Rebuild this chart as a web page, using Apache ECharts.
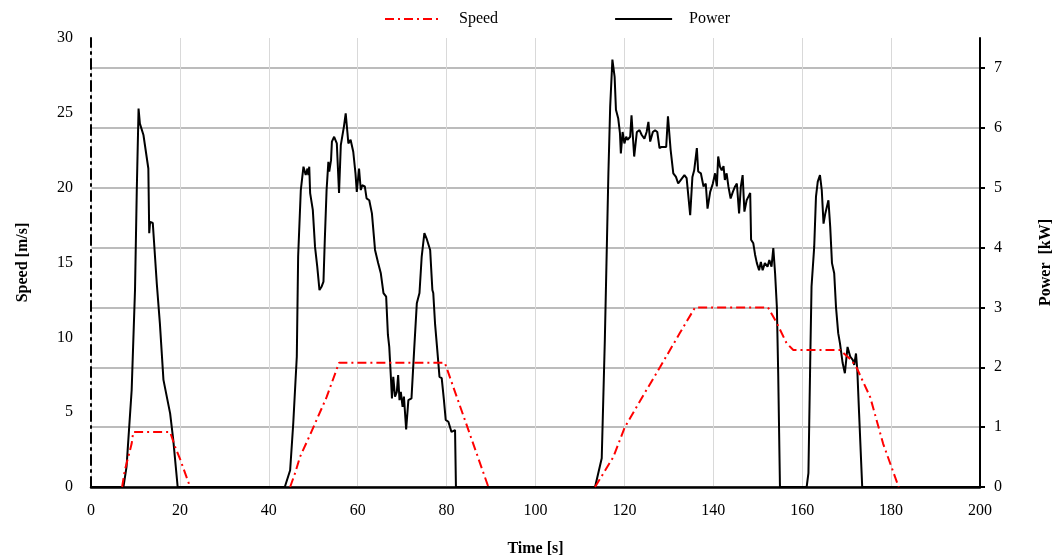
<!DOCTYPE html>
<html>
<head>
<meta charset="utf-8">
<script src="https://cdn.jsdelivr.net/npm/echarts@6/dist/echarts.min.js"></script>
<style>
  html, body { margin: 0; padding: 0; background: #fff; }
  #chart { width: 1060px; height: 558px; }
</style>
</head>
<body>
<div id="chart"></div>
<script>
// speed profile [s] -> [m/s], null = gap between runs (sits on the axis in the original)
var speedTime = [7, 7.6, 9.15, 9.5, 17.8, 18.9, 20, 22.3, 30,
    44.8, 46, 47, 49.3, 53, 55.8, 79.6, 89.4, 100,
    113.4, 117.5, 120.1, 125, 128, 132.5, 135.9, 152.3, 154.3, 156.5, 158, 168.5, 171, 172.2, 175.3, 178.2, 181.7];
var speedValue = [0, 1.1, 2.9, 3.67, 3.67, 2.7, 1.9, 0, null,
    0, 1, 2, 3.5, 6, 8.3, 8.3, 0, null,
    0, 2, 4, 6.5, 8, 10.3, 12, 12, 10.95, 9.6, 9.15, 9.15, 8.5, 8.0, 6.0, 2.9, 0];

// power [s] -> [kW]
var powerTime = [0, 7.3, 8.0, 9.15, 9.9, 10.3, 10.7, 11.0, 11.8, 12.9, 13.1, 13.3, 13.9, 14.8, 15.5, 16.3, 17.8, 18.5, 19.5,
    43.6, 44.8, 45.5, 46.3, 46.6, 47.2, 47.8, 48.3, 48.7, 48.9, 49.1, 49.3, 49.9, 50.4, 50.9, 51.4, 51.9, 52.3, 52.6, 53.0,
    53.4, 53.6, 54.0, 54.2, 54.7, 55.3, 55.8, 56.2, 56.6, 56.9, 57.3, 57.7, 57.9, 58.4, 59.0, 59.5, 59.8, 60.3, 60.7, 61.0,
    61.6, 62.0, 62.6, 63.2, 63.9, 64.6, 65.2, 65.8, 66.4, 66.8, 67.1, 67.5, 67.7, 68.0, 68.4, 68.8, 69.1, 69.4, 69.7, 70.1,
    70.4, 70.9, 71.4, 72.1, 72.7, 73.3, 73.9, 74.4, 75.0, 75.5, 76.3, 76.8, 77.0, 77.4, 77.9, 78.4, 78.9, 79.4, 79.8, 80.4,
    81.1, 81.9, 82.1,
    113.4, 114.9, 115.6, 116.4, 116.8, 117.3, 117.8, 118.1, 118.6, 119.0, 119.2, 119.6, 120.0, 120.4, 120.7, 121.3, 121.6,
    122.2, 122.8, 123.4, 123.9, 124.5, 125.0, 125.4, 125.8, 126.4, 126.9, 127.4, 127.9, 128.4, 129.4, 129.8, 130.4, 131.0,
    131.6, 132.1, 132.7, 133.5, 134.0, 134.8, 135.3, 135.7, 136.3, 136.6, 137.2, 137.8, 138.3, 138.7, 139.3, 139.9, 140.4,
    140.8, 141.1, 141.5, 141.9, 142.3, 142.6, 143.0, 143.4, 143.9, 144.4, 144.9, 145.3, 145.8, 146.2, 146.6, 147.0, 147.5,
    147.9, 148.3, 148.5, 149.0, 149.4, 149.8, 150.3, 150.7, 151.1, 151.6, 152.2, 152.6, 153.1, 153.5, 153.9, 154.3, 154.6, 155.0,
    161.0, 161.4, 161.8, 162.1, 162.7, 163.1, 163.5, 164.0, 164.4, 164.8, 165.2, 165.9, 166.3, 166.7, 167.2, 167.6, 168.1,
    168.5, 169.1, 169.6, 170.2, 170.8, 171.4, 171.7, 172.1, 172.4, 172.8, 173.5, 200];
var powerValue = [0, 0, 0.34, 1.62, 3.29, 4.96, 6.32, 6.07, 5.88, 5.32, 4.24, 4.43, 4.41, 3.40, 2.73, 1.79, 1.23, 0.79, 0,
    0, 0.28, 1.06, 2.18, 3.85, 4.96, 5.35, 5.21, 5.32, 5.21, 5.35, 4.91, 4.63, 4.01, 3.68, 3.29, 3.35, 3.43, 4.13, 4.96,
    5.43, 5.27, 5.46, 5.77, 5.85, 5.74, 4.91, 5.71, 5.74, 6.02, 6.24, 5.91, 5.74, 5.80, 5.60, 5.24, 4.93, 5.32, 4.96, 5.04,
    5.02, 4.82, 4.79, 4.57, 3.96, 3.74, 3.57, 3.24, 3.18, 2.54, 2.34, 1.79, 1.48, 1.84, 1.51, 1.59, 1.87, 1.45, 1.59, 1.34,
    1.51, 0.96, 1.45, 1.48, 2.29, 3.07, 3.24, 3.85, 4.24, 4.15, 3.96, 3.29, 3.24, 2.73, 2.29, 1.84, 1.82, 1.45, 1.12, 1.09,
    0.92, 0.95, 0,
    0, 0.48, 2.46, 5.24, 6.35, 7.14, 6.85, 6.30, 6.16, 5.91, 5.57, 5.93, 5.74, 5.85, 5.80, 5.85, 6.21,
    5.52, 5.93, 5.96, 5.88, 5.82, 5.93, 6.10, 5.77, 5.93, 5.96, 5.93, 5.66, 5.68, 5.68, 6.19, 5.63, 5.24,
    5.18, 5.07, 5.13, 5.21, 5.16, 4.54, 5.18, 5.29, 5.66, 5.27, 5.24, 5.02, 5.07, 4.65, 4.93, 5.07, 5.24,
    5.02, 5.52, 5.35, 5.29, 5.36, 5.13, 5.24, 5.02, 4.82, 4.93, 5.02, 5.07, 4.57, 5.02, 5.21, 4.60, 4.79,
    4.85, 4.91, 4.13, 4.07, 3.88, 3.74, 3.62, 3.76, 3.62, 3.74, 3.68, 3.79, 3.68, 3.99, 3.57, 3.01, 1.90, 0,
    0, 0.23, 2.07, 3.35, 4.01, 4.85, 5.10, 5.21, 4.96, 4.40, 4.57, 4.79, 4.35, 3.74, 3.57, 3.01, 2.57,
    2.40, 2.07, 1.90, 2.34, 2.18, 2.12, 2.04, 2.23, 1.95, 1.23, 0, 0];

var powerTicks = [0, 1, 2, 3, 4, 5, 6, 7];

function pairs(xs, ys) {
    return xs.map(function(x, i) { return [x, ys[i] === null ? '-' : ys[i]]; });
}

var font = 'Liberation Serif';
var myChart = echarts.init(document.getElementById('chart'));

var option = {
    animation: false,
    textStyle: { fontFamily: font },
    legend: {
        top: 6,
        left: 379,
        itemWidth: 57,
        itemHeight: 14,
        itemGap: 116,
        itemStyle: { opacity: 0 },
        textStyle: { fontFamily: font, fontSize: 16, color: '#000', padding: [0, 0, 0, 12] },
        data: ['Speed', 'Power']
    },
    grid: { left: 91, right: 80, top: 38, bottom: 71, containLabel: false, outerBoundsMode: 'none' },
    xAxis: {
        type: 'value',
        min: 0,
        max: 200,
        interval: 20,
        name: 'Time [s]',
        nameLocation: 'middle',
        nameGap: 54,
        nameTextStyle: { fontFamily: font, fontSize: 16, fontWeight: 'bold', color: '#000' },
        axisLine: { lineStyle: { color: '#000', width: 2.5 } },
        axisTick: { show: false },
        axisLabel: { fontFamily: font, fontSize: 16, color: '#000', margin: 16 },
        splitLine: { show: true, lineStyle: { color: '#d9d9d9', width: 1 } }
    },
    yAxis: [{
        type: 'value',
        min: 0,
        max: 30,
        interval: 5,
        name: 'Speed [m/s]',
        nameLocation: 'middle',
        nameGap: 60,
        nameTextStyle: { fontFamily: font, fontSize: 16, fontWeight: 'bold', color: '#000' },
        axisLine: { show: true, lineStyle: { color: '#000', width: 2, type: [10, 5, 2, 5] } },
        axisTick: { show: false },
        axisLabel: { fontFamily: font, fontSize: 16, color: '#000', margin: 18 },
        splitLine: { show: false }
    }, {
        type: 'value',
        min: 0,
        max: 7.5,
        interval: 1,
        position: 'right',
        name: 'Power  [kW]',
        nameLocation: 'middle',
        nameGap: 58,
        nameTextStyle: { fontFamily: font, fontSize: 16, fontWeight: 'bold', color: '#000' },
        axisLine: { show: true, lineStyle: { color: '#000', width: 2 } },
        axisTick: { show: true, length: 5, customValues: powerTicks, lineStyle: { color: '#000', width: 2 } },
        axisLabel: { fontFamily: font, fontSize: 16, color: '#000', margin: 14, customValues: powerTicks },
        splitLine: { show: true, lineStyle: { color: '#a6a6a6', width: 1.5 } }
    }],
    series: [{
        name: 'Speed',
        type: 'line',
        yAxisIndex: 0,
        symbol: 'none',
        connectNulls: false,
        z: 3,
        lineStyle: { color: '#ff0000', width: 2, type: [9, 4, 2, 4] },
        itemStyle: { color: '#ff0000' },
        data: pairs(speedTime, speedValue)
    }, {
        name: 'Power',
        type: 'line',
        yAxisIndex: 1,
        symbol: 'none',
        z: 2,
        lineStyle: { color: '#000', width: 2 },
        itemStyle: { color: '#000' },
        data: pairs(powerTime, powerValue)
    }]
};

myChart.setOption(option);
</script>
</body>
</html>
